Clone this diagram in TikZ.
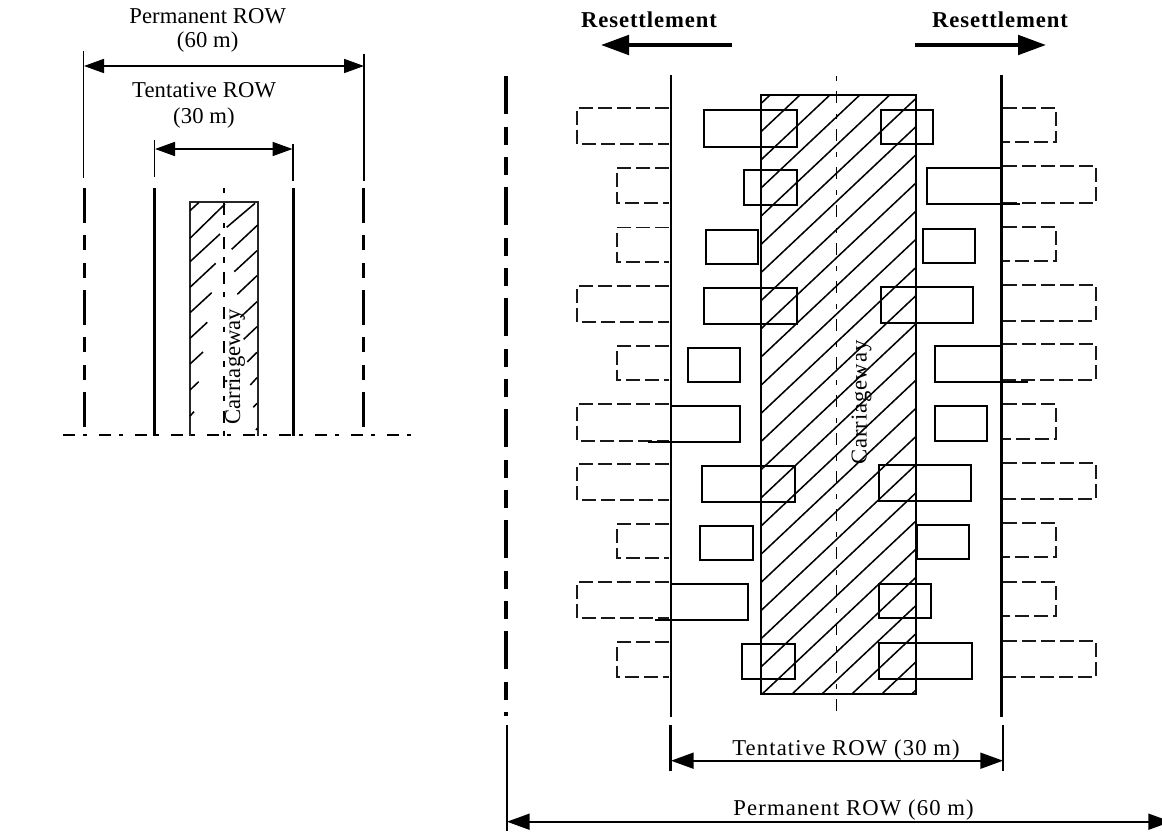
\documentclass[tikz,border=0pt]{standalone}
\usepackage{fontspec}
\usetikzlibrary{arrows.meta}
\setmainfont{Liberation Serif}
\newfontfamily\fa[LetterSpace=0.5]{Liberation Serif}
\newfontfamily\fb[LetterSpace=5]{Liberation Serif}
\newfontfamily\fc[LetterSpace=0]{Liberation Serif}
\newfontfamily\fd[LetterSpace=3.5]{Liberation Serif}
\newfontfamily\fe[LetterSpace=4]{Liberation Serif}
\tikzset{
  lbl/.style={inner sep=0pt,anchor=base,font=\fontsize{17}{18}\selectfont},
  house/.style={draw=black,line width=1.5pt},
  moved/.style={draw=black!90,line width=1.2pt,dash pattern=on 10.5pt off 3.75pt},
  hatchline/.style={line width=1.15pt},
  edge/.style={line width=1.3pt},
  thinrow/.style={line width=1.2pt},
  thickrow/.style={line width=2.2pt},
  cdash/.style={line width=1.2pt,dash pattern=on 4pt off 7.5pt on 9pt off 8pt},
  dimarrow/.style={line width=1.3pt,{Triangle[length=15pt,width=10.5pt]}-{Triangle[length=15pt,width=10.5pt]}},
  dimarrowb/.style={line width=1.3pt,{Triangle[length=17pt,width=12pt]}-{Triangle[length=17pt,width=12pt]}},
  resarrow/.style={line width=3pt,-{Triangle[length=21pt,width=14.5pt]}},
}
\begin{document}
\begin{tikzpicture}[x=0.75pt,y=-0.75pt]
\useasboundingbox (0,0) rectangle (1162,831);
\clip (0,0) rectangle (1162,831);
% ---------- small section
\coordinate (pl) at (84,66); \coordinate (pr) at (364,66);
\coordinate (tl) at (155,149); \coordinate (tr) at (292.5,149);
\draw[thinrow] (83.3,51) -- (83.3,178);
\draw[thinrow] (364,54) -- (364,181);
\draw[thinrow] (154.3,140) -- (154.3,176.5);
\draw[thinrow] (293,144) -- (293,181);
\draw[dimarrow] (pl) -- (pr);
\draw[dimarrow] (tl) -- (tr);
\node[lbl] (pa) at (207.7,24) {\fa Permanent ROW};
\node[lbl] (pb) at (207.7,48) {\fa (60 m)};
\node[lbl] (ta) at (204,97.7) {\fa Tentative ROW};
\node[lbl] (tb) at (204,123) {\fa (30 m)};
\foreach \x in {84.7,363.5}
  \draw[line width=2.6pt,dash pattern=on 26.25pt off 9pt on 11.25pt off 9.75pt on 11.25pt off 9pt] (\x,188) -- (\x,436);
\draw[thickrow] (154.5,188) -- (154.5,436);
\draw[thickrow] (293.3,188) -- (293.3,436);
\draw[edge,draw=black!85] (190,436) -- (190,202) -- (257.7,202) -- (257.7,436);
\foreach \a/\b/\c/\d in {190/210.7/199/202.3,190/238.3/225/204,226.7/227.3/255/203.3,
 190/261.7/220/234,190/287.3/215.7/263.3,190/312.7/211.7/292.7,190/338.3/207.3/322.3,
 190/364/203/352,190/390/198.7/381.7,190/416/194/411.7,
 231.7/249.3/257.7/225,234.3/271.7/257/250.7,237.3/294.3/257/275.7,240.3/317.3/257/301.7,
 243.7/339.3/257/326.7,247.3/362/257/352.3,250.3/385/257/377.7,253.3/407.3/257/403.3,256/430/257.3/428.3}
  \draw[hatchline] (\a,\b) -- (\c,\d);
\draw[line width=1.2pt,dash pattern=on 4pt off 7pt on 9pt off 6pt] (224,188) -- (224,436);
\node[lbl,rotate=90] (cs) at (240,366.7) {\fc Carriageway};
\draw[line width=1.2pt,dash pattern=on 9pt off 6pt on 3pt off 9pt] (63.3,435) -- (414,435);
% ---------- large section: hatched carriageway
\begin{scope}
\clip (761,95) rectangle (916,694);
\foreach \k in {-2,...,37}
  \draw[hatchline] (761,131.7+28.17*\k) -- (916,131.7+28.17*\k-146);
\end{scope}
\draw[edge] (761,95) rectangle (916,694);
\draw[cdash] (836.5,76) -- (836.5,713);
\node[lbl,rotate=90] (cb) at (866.5,402.5) {\fd Carriageway};
% ROW limits
\draw[line width=2.4pt,dash pattern=on 28.5pt off 9.75pt on 13.5pt off 9pt on 13.5pt off 9pt] (506,76) -- (506,716);
\draw[line width=1.6pt] (507,725) -- (507,831);
\draw[line width=1.6pt] (671,75) -- (671,716.5);
\draw[line width=2.2pt] (1001.5,75) -- (1001.5,716.5);
\draw[line width=2.1pt] (670.5,725) -- (670.5,770.7);
\draw[line width=1.5pt] (1003,725) -- (1003,770.7);
% relocated houses
\foreach \a/\b/\c in {577/108/144,617/168/203,617/227.5/262,577/286/322,617/346/380,577/404/441,577/464/500,617/524/558,577/582/618,617/642/677}
  \draw[moved] (669,\b) -- (\a,\b) -- (\a,\c) -- (669,\c);
\foreach \a/\b/\c in {1056/108/142,1096/166/203,1056/227/261,1096/285/321,1096/344/380,1056/404/439,1096/463/499,1056/523/557,1056/582/616,1096/641/677}
  \draw[moved] (1003,\b) -- (\a,\b) -- (\a,\c) -- (1003,\c);
% houses
\foreach \a/\b/\c/\d in {703.7/110/796.7/146.7,744/170/796.7/205,706/229.5/758/264,703.7/288/796.7/324,688/348/740/382,
 702/466/794.5/502,700/526/752.5/560,742/644/794.5/678.5,
 881/110/933/144.5,923/228.5/975/263,881/287/973/323,935/406/987/441,879/465/971/501,917/525/969/559,879/584/931/618,879/643/971.5/679}
  \draw[house] (\a,\b) rectangle (\c,\d);
\draw[house] (670,406) -- (740,406) -- (740,442) -- (648,442);
\draw[house] (670,584) -- (748,584) -- (748,620) -- (655,620);
\draw[house] (1002,168) -- (927,168) -- (927,204) -- (1020,204);
\draw[house] (1002,346) -- (935,346) -- (935,382) -- (1028,382);
% arrows and labels
\coordinate (rla) at (731.7,45); \coordinate (rlb) at (601,45);
\coordinate (rra) at (915,45); \coordinate (rrb) at (1046,45);
\draw[resarrow] (rla) -- (rlb);
\draw[resarrow] (rra) -- (rrb);
\node[lbl] (r1) at (649,27.3) {\fe\bfseries Resettlement};
\node[lbl] (r2) at (1000,27.3) {\fe\bfseries Resettlement};
\coordinate (t1) at (671,760.7); \coordinate (t2) at (1003,760.7);
\coordinate (p1) at (507,821.7); \coordinate (p2) at (1171,821.7);
\draw[dimarrowb] (t1) -- (t2);
\draw[dimarrowb] (p1) -- (p2);
\node[lbl] (t3) at (846,755) {\fb Tentative ROW (30 m)};
\node[lbl] (p3) at (853.6,815) {\fb Permanent ROW (60 m)};
\end{tikzpicture}
\end{document}
